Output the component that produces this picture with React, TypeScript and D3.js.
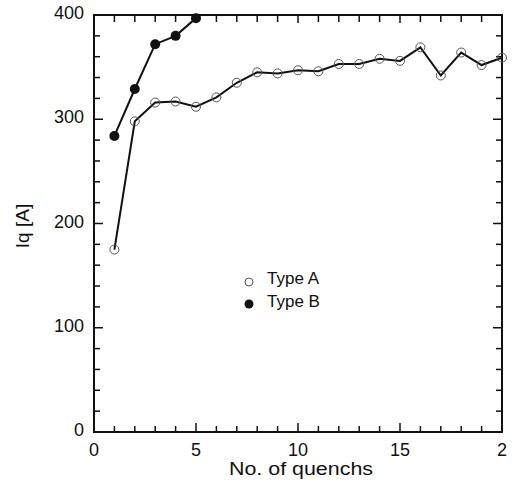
import React from "react";
import * as d3 from "d3";

const quenchA = [1, 2, 3, 4, 5, 6, 7, 8, 9, 10, 11, 12, 13, 14, 15, 16, 17, 18, 19, 20];
const iqA = [175, 298, 316, 317, 312, 321, 335, 345, 344, 347, 346, 353, 353, 358, 356, 369, 342, 364, 352, 359];
const quenchB = [1, 2, 3, 4, 5];
const iqB = [284, 329, 372, 380, 397];
const xTickValues = [0, 5, 10, 15, 20];
const xTickLabels = ["0", "5", "10", "15", "2"];
const yTickValues = [0, 100, 200, 300, 400];
const yTickLabels = ["0", "100", "200", "300", "400"];
const legendLabels = ["Type A", "Type B"];

const W = 515, H = 486;
const L = 94, R = 502, T = 15, B = 432;
const FONT = "'Liberation Sans', Arial, Helvetica, sans-serif";

export default function App() {
  const x = d3.scaleLinear().domain([0, 20]).range([L, R]);
  const y = d3.scaleLinear().domain([0, 400]).range([B, T]);
  const line = d3.line<[number, number]>().x(d => x(d[0])).y(d => y(d[1]));
  const ptsA: [number, number][] = quenchA.map((q, i) => [q, iqA[i]]);
  const ptsB: [number, number][] = quenchB.map((q, i) => [q, iqB[i]]);
  const xMinor = d3.range(0, 21, 1);
  const yMinor = d3.range(0, 401, 20);

  return (
    <svg width={W} height={H} style={{ position: "absolute", left: 0, top: 0, background: "#fff" }}
      fontFamily={FONT}>
      <rect x={0} y={0} width={W} height={H} fill="#fff" />
      {/* ticks */}
      {xMinor.map(v => {
        const major = v % 5 === 0;
        return (
          <g key={"xt" + v} stroke="#111" strokeWidth={1.5}>
            <line x1={x(v)} x2={x(v)} y1={B} y2={B - (major ? 9 : 6)} />
            <line x1={x(v)} x2={x(v)} y1={T} y2={T + (major ? 8 : 7)} />
          </g>
        );
      })}
      {yMinor.map(v => {
        const major = v % 100 === 0;
        return (
          <g key={"yt" + v} stroke="#111" strokeWidth={1.5}>
            <line x1={L} x2={L + (major ? 9 : 6)} y1={y(v)} y2={y(v)} />
            <line x1={R} x2={R - (major ? 9 : 6)} y1={y(v)} y2={y(v)} />
          </g>
        );
      })}
      {/* frame */}
      <rect x={L} y={T} width={R - L} height={B - T} fill="none" stroke="#111" strokeWidth={2} />
      {/* tick labels */}
      {xTickValues.map((v, i) => (
        <text key={"xl" + v} x={x(v)} y={456} textAnchor="middle" fontSize={18} fill="#111">
          {xTickLabels[i]}
        </text>
      ))}
      {yTickValues.map((v, i) => (
        <text key={"yl" + v} x={84} y={y(v) + 4} textAnchor="end" fontSize={18} fill="#111">
          {yTickLabels[i]}
        </text>
      ))}
      {/* axis titles */}
      <text x={301} y={475} textAnchor="middle" fontSize={18} fill="#111"
        textLength={144} lengthAdjust="spacingAndGlyphs">No. of quenchs</text>
      <text transform={`translate(29,226) rotate(-90)`} textAnchor="middle" fontSize={19} fill="#111">Iq [A]</text>
      {/* series lines */}
      <path d={line(ptsA) || ""} fill="none" stroke="#111" strokeWidth={2} />
      <path d={line(ptsB) || ""} fill="none" stroke="#111" strokeWidth={2} />
      {/* markers */}
      {ptsA.map((p, i) => (
        <circle key={"a" + i} cx={x(p[0])} cy={y(p[1])} r={4.5} fill="none" stroke="#555" strokeWidth={1} />
      ))}
      {ptsB.map((p, i) => (
        <circle key={"b" + i} cx={x(p[0])} cy={y(p[1])} r={5} fill="#111" />
      ))}
      {/* legend */}
      <circle cx={249} cy={282} r={4} fill="none" stroke="#555" strokeWidth={1} />
      <text x={267} y={284} fontSize={17} fill="#111">{legendLabels[0]}</text>
      <circle cx={249} cy={304} r={4.5} fill="#111" />
      <text x={267} y={307} fontSize={17} fill="#111">{legendLabels[1]}</text>
    </svg>
  );
}
